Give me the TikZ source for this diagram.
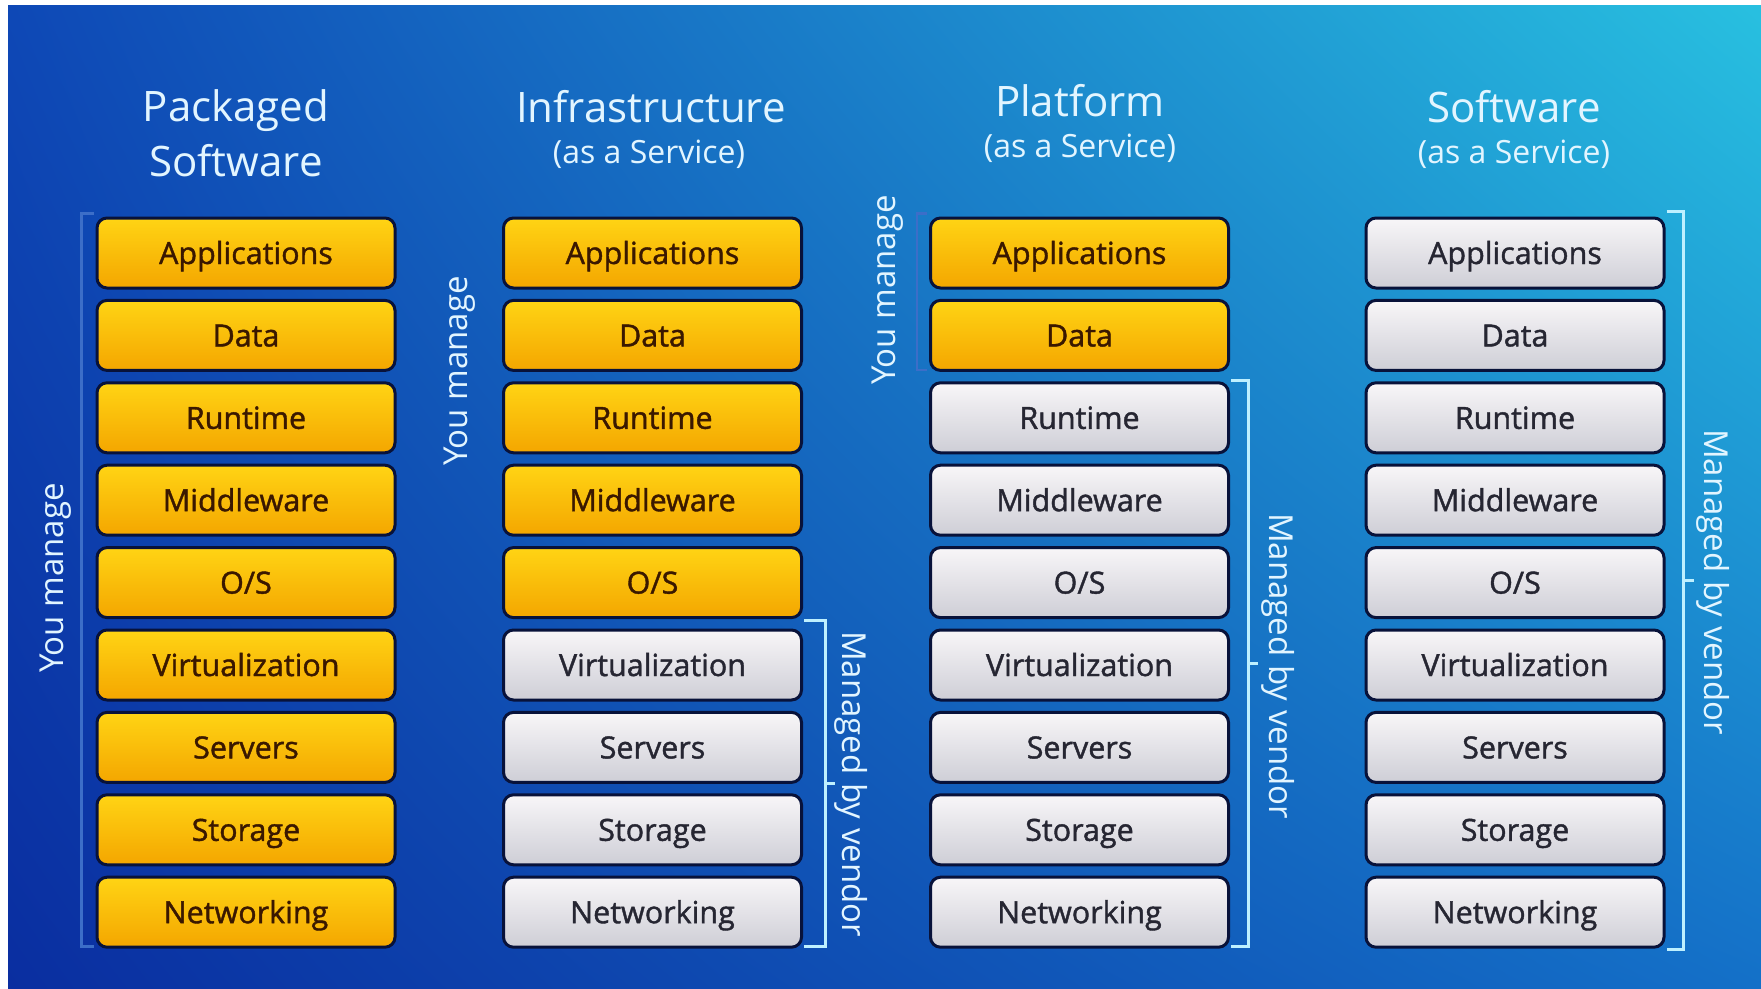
\documentclass[tikz,border=0pt]{standalone}
\usepackage{fontspec}
\setmainfont{Open Sans}
\newfontfamily\semib{Open Sans}[FakeBold=1.3]
\usetikzlibrary{calc,shadings}
\definecolor{bgUL}{RGB}{14,72,182}
\definecolor{bgUR}{RGB}{40,192,224}
\definecolor{bgLL}{RGB}{10,46,160}
\definecolor{bgLR}{RGB}{20,112,200}
\definecolor{yelTop}{RGB}{255,212,20}
\definecolor{yelBot}{RGB}{244,166,0}
\definecolor{yelText}{RGB}{58,24,0}
\definecolor{gryTop}{RGB}{248,246,248}
\definecolor{gryBot}{RGB}{206,206,214}
\definecolor{gryText}{RGB}{38,38,50}
\definecolor{boxLine}{RGB}{8,18,58}
\definecolor{titleCol}{RGB}{226,245,255}
\definecolor{brCol}{RGB}{190,240,255}
\definecolor{faintCol}{RGB}{60,110,200}
\tikzset{
  layer/.style={minimum width=298pt, minimum height=70pt, rounded corners=10pt,
    draw=boxLine, line width=3pt, inner sep=0pt, text height=22pt, text depth=0pt,
    font=\semib\fontsize{30.5}{32}\selectfont},
  mine/.style={layer, top color=yelTop, bottom color=yelBot, text=yelText},
  vend/.style={layer, top color=gryTop, bottom color=gryBot, text=gryText},
  ttl/.style={text=titleCol, font=\fontsize{42}{48}\selectfont, inner sep=0pt},
  sub/.style={text=titleCol, font=\fontsize{32}{34}\selectfont, inner sep=0pt},
  side/.style={text=titleCol, font=\fontsize{33}{35}\selectfont, inner sep=0pt},
  vbr/.style={draw=brCol, line width=3pt},
  fbr/.style={draw=faintCol, line width=2.5pt},
}
\begin{document}
\begin{tikzpicture}[x=1pt,y=-1pt]
\useasboundingbox (0,0) rectangle (1761,988);
\fill[white] (0,0) rectangle (1761,988);
\shade[upper left=bgUL, upper right=bgUR, lower left=bgLL, lower right=bgLR] (8,5) rectangle (1761,988);

% titles
\node[ttl] (t1a) at (236,111) {Packaged};
\node[ttl] (t1b) at (236,161) {Software};
\node[ttl] (t2a) at (651,107) {Infrastructure};
\node[sub] (t2b) at (649,154) {(as a Service)};
\node[ttl] (t3a) at (1080,101) {Platform};
\node[sub] (t3b) at (1080,148) {(as a Service)};
\node[ttl] (t4a) at (1514,107) {Software};
\node[sub] (t4b) at (1514,154) {(as a Service)};

% stacks
\foreach \lab [count=\i from 0] in {Applications,Data,Runtime,Middleware,O/S,Virtualization,Servers,Storage,Networking} {
  \pgfmathsetmacro\yy{253+82.4*\i}
  \node[mine] (a\i) at (246,\yy) {\lab};
  \ifnum\i<5
    \node[mine] (b\i) at (652.5,\yy) {\lab};
  \else
    \node[vend] (b\i) at (652.5,\yy) {\lab};
  \fi
  \ifnum\i<2
    \node[mine] (c\i) at (1079.5,\yy) {\lab};
  \else
    \node[vend] (c\i) at (1079.5,\yy) {\lab};
  \fi
  \node[vend] (d\i) at (1515,\yy) {\lab};
}

% faint "you manage" brackets
\draw[fbr] ([xshift=-2pt,yshift=3pt]a0.north west) -- ++(-12,0) |- ([xshift=-2pt,yshift=2pt]a8.south west);
\draw[fbr] ([xshift=-2pt,yshift=3pt]c0.north west) -- ++(-10,0) |- ([xshift=-2pt,yshift=2pt]c1.south west);

% vendor brackets
\coordinate (v2a) at ([xshift=22pt,yshift=8pt]b5.north east);
\coordinate (v2b) at ([xshift=22pt,yshift=2pt]b8.south east);
\draw[vbr] ([xshift=1pt]v2a -| b5.east) -- (v2a) -- (v2b) -- ([xshift=1pt]v2b -| b8.east);
\draw[vbr] ($(v2a)!0.5!(v2b)$) -- ++(10,0);

\coordinate (v3a) at ([xshift=18pt,yshift=1pt]c2.north east);
\coordinate (v3b) at ([xshift=18pt,yshift=2pt]c8.south east);
\draw[vbr] ([xshift=1pt]v3a -| c2.east) -- (v3a) -- (v3b) -- ([xshift=1pt]v3b -| c8.east);
\draw[vbr] ($(v3a)!0.5!(v3b)$) -- ++(10,0);

\coordinate (v4a) at ([xshift=18pt,yshift=5pt]d0.north east);
\coordinate (v4b) at ([xshift=18pt,yshift=-1pt]d8.south east);
\draw[vbr] ([xshift=1pt]v4a -| d0.east) -- (v4a) -- (v4b) -- ([xshift=1pt]v4b -| d8.east);
\draw[vbr] ($(v4a)!0.5!(v4b)$) -- ++(10,0);

% side labels
\node[side, rotate=90] (m1) at (56,578) {You manage};
\node[side, rotate=90] (m2) at (460,371) {You manage};
\node[side, rotate=90] (m3) at (888,290) {You manage};
\node[side, rotate=-90] (n2) at (851,784) {Managed by vendor};
\node[side, rotate=-90] (n3) at (1278,666) {Managed by vendor};
\node[side, rotate=-90] (n4) at (1713,582) {Managed by vendor};
\end{tikzpicture}
\end{document}
